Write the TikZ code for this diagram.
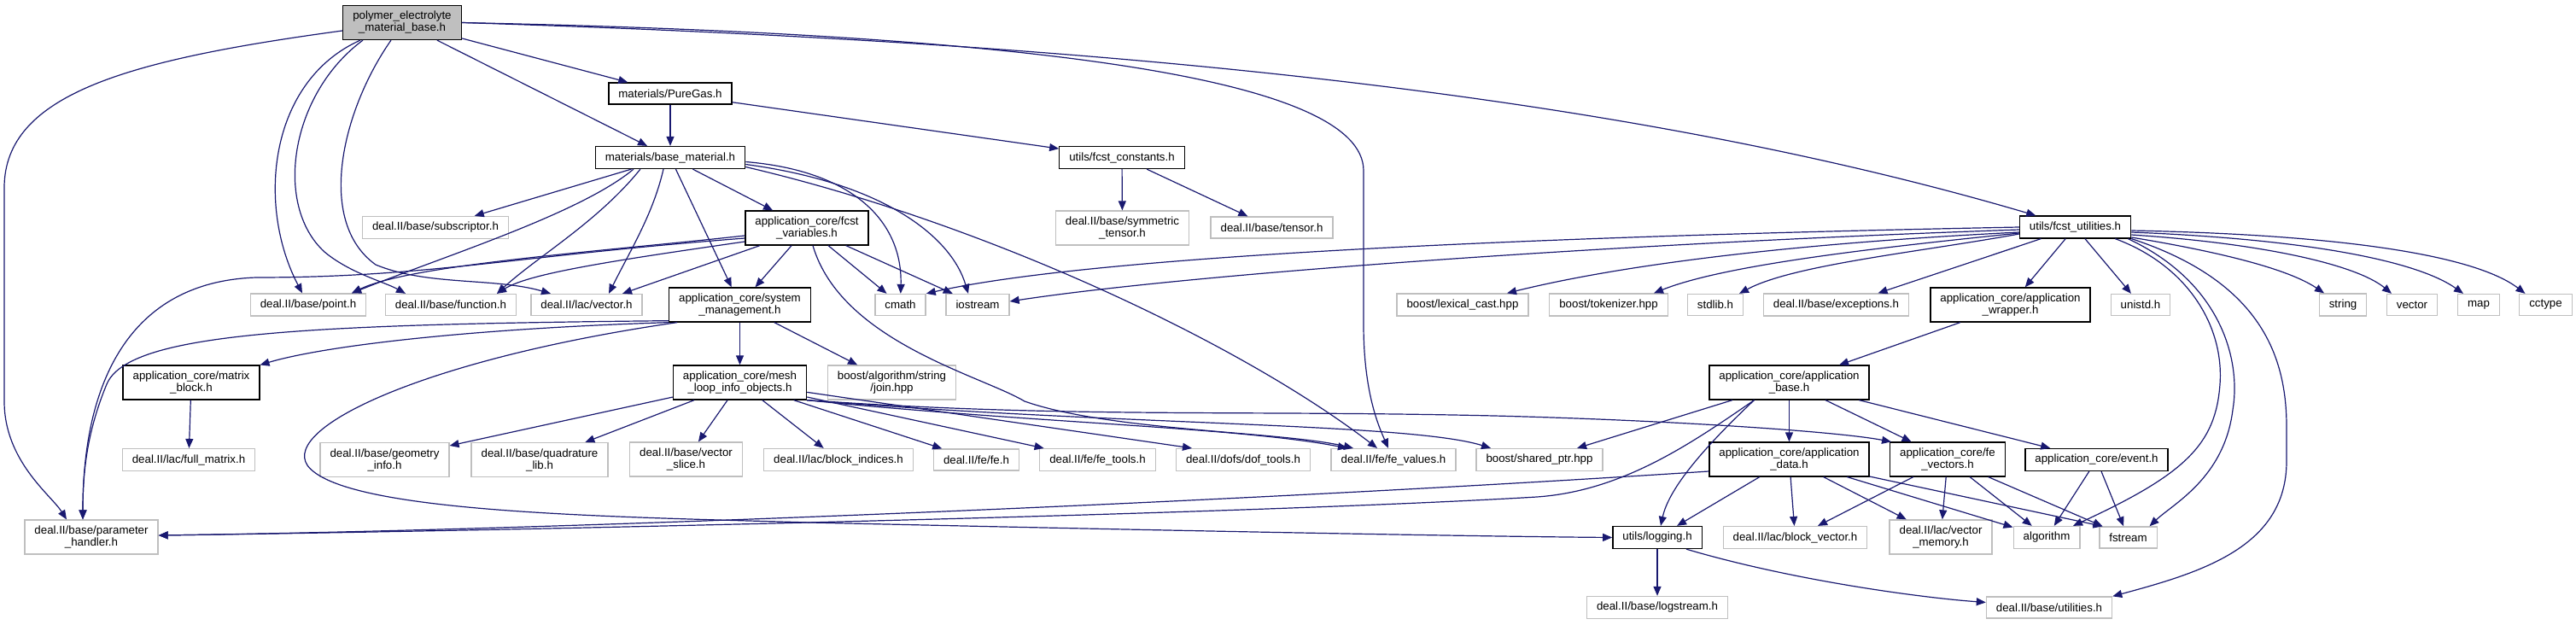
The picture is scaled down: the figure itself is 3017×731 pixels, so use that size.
\documentclass[tikz,border=0pt]{standalone}
\usepackage{fontspec}
\setmainfont{Liberation Sans}
\usetikzlibrary{arrows.meta}
\definecolor{edgeblue}{HTML}{191970}
\definecolor{boxgray}{HTML}{BFBFBF}

\begin{document}
\begin{tikzpicture}[x=1pt, y=-1pt,
    every node/.style={rectangle, draw, line width=1.3pt, inner xsep=11.5pt, inner ysep=6.8pt,
      minimum height=25pt, align=center, font={\fontsize{13.3}{14}\selectfont}},
    ext/.style={draw=boxgray},
    top/.style={fill=boxgray},
    dep/.style={draw=edgeblue, line width=1.2pt, -{Triangle[length=11pt, width=9pt]}}]
    \useasboundingbox (0,0) rectangle (3017,731);

    \node[top] (root) at (471,26.5) {polymer\_electrolyte\\\_material\_base.h};
    \node (puregas) at (785,109.5) {materials/PureGas.h};
    \node (basemat) at (785,184.5) {materials/base\_material.h};
    \node (constants) at (1314,184.5) {utils/fcst\_constants.h};
    \node[ext] (subscriptor) at (510,266.5) {deal.II/base/subscriptor.h};
    \node (variables) at (945,267) {application\_core/fcst\\\_variables.h};
    \node[ext] (symtensor) at (1314.5,267) {deal.II/base/symmetric\\\_tensor.h};
    \node[ext] (tensor) at (1489.5,266.5) {deal.II/base/tensor.h};
    \node (utilities) at (2430.5,266) {utils/fcst\_utilities.h};
    \node[ext] (point) at (361,357) {deal.II/base/point.h};
    \node[ext] (function) at (528,357) {deal.II/base/function.h};
    \node[ext] (lacvector) at (687,357) {deal.II/lac/vector.h};
    \node (sysmgmt) at (866.5,357) {application\_core/system\\\_management.h};
    \node[ext] (cmath) at (1054.5,357) {cmath};
    \node[ext] (iostream) at (1145,357) {iostream};
    \node[ext] (lexcast) at (1713,357) {boost/lexical\_cast.hpp};
    \node[ext] (tokenizer) at (1884,357) {boost/tokenizer.hpp};
    \node[ext] (stdlib) at (2009,357) {stdlib.h};
    \node[ext] (exceptions) at (2150.5,357) {deal.II/base/exceptions.h};
    \node (appwrapper) at (2354.5,357) {application\_core/application\\\_wrapper.h};
    \node[ext] (unistd) at (2507,357) {unistd.h};
    \node[ext] (string) at (2744,357) {string};
    \node[ext] (vector) at (2825,357) {vector};
    \node[ext] (map) at (2903,357) {map};
    \node[ext] (cctype) at (2981.5,357) {cctype};
    \node (matrixblock) at (224,448) {application\_core/matrix\\\_block.h};
    \node (meshloop) at (866.5,448) {application\_core/mesh\\\_loop\_info\_objects.h};
    \node[ext] (join) at (1044.5,448) {boost/algorithm/string\\/join.hpp};
    \node (appbase) at (2095.5,448) {application\_core/application\\\_base.h};
    \node[ext] (fullmatrix) at (221,538.5) {deal.II/lac/full\_matrix.h};
    \node[ext] (geominfo) at (450.5,538.5) {deal.II/base/geometry\\\_info.h};
    \node[ext] (quadlib) at (632,538.5) {deal.II/base/quadrature\\\_lib.h};
    \node[ext] (vecslice) at (803.5,538) {deal.II/base/vector\\\_slice.h};
    \node[ext] (blockind) at (982,538.5) {deal.II/lac/block\_indices.h};
    \node[ext] (fefe) at (1143.5,538.5) {deal.II/fe/fe.h};
    \node[ext] (fetools) at (1285.5,538.5) {deal.II/fe/fe\_tools.h};
    \node[ext] (doftools) at (1456,538.5) {deal.II/dofs/dof\_tools.h};
    \node[ext] (fevalues) at (1632,538.5) {deal.II/fe/fe\_values.h};
    \node[ext] (sharedptr) at (1803,538.5) {boost/shared\_ptr.hpp};
    \node (appdata) at (2095.5,538) {application\_core/application\\\_data.h};
    \node (fevectors) at (2281,538) {application\_core/fe\\\_vectors.h};
    \node (event) at (2455.5,538.5) {application\_core/event.h};
    \node[ext] (param) at (107,629) {deal.II/base/parameter\\\_handler.h};
    \node (logging) at (1941,629.5) {utils/logging.h};
    \node[ext] (blockvec) at (2102.5,629.5) {deal.II/lac/block\_vector.h};
    \node[ext] (vecmemory) at (2273,629) {deal.II/lac/vector\\\_memory.h};
    \node[ext] (algorithm) at (2397,629.5) {algorithm};
    \node[ext] (fstream) at (2492.5,629.5) {fstream};
    \node[ext] (logstream) at (1941,711.5) {deal.II/base/logstream.h};
    \node[ext] (dealutil) at (2400,711.5) {deal.II/base/utilities.h};

    \draw[dep] (root) .. controls (150,70) and (5,110) .. (5,220) -- (5,470) .. controls (5,540) and (60,580) .. ([xshift=-29pt]param.north);
    \draw[dep] ([xshift=-49pt]root.south) .. controls (315,95) and (300,240) .. ([xshift=-7pt]point.north);
    \draw[dep] ([xshift=-46pt]root.south) .. controls (340,110) and (320,240) .. (380,295) .. controls (410,320) and (450,330) .. ([xshift=-53pt]function.north);
    \draw[dep] ([xshift=-13pt]root.south) .. controls (400,130) and (370,260) .. (440,310) .. controls (500,335) and (580,325) .. ([xshift=-42pt]lacvector.north);
    \draw[dep] (root) -- (puregas);
    \draw[dep] (root) -- (basemat);
    \draw[dep] (root.east) .. controls (1200,40) and (1597,90) .. (1597,200) -- (1597,380) .. controls (1597,460) and (1615,500) .. ([xshift=-6pt]fevalues.north);
    \draw[dep] (root.east) .. controls (1300,50) and (1900,110) .. (utilities);

    \draw[dep] (puregas) -- (basemat);
    \draw[dep] (puregas) -- (constants);
    \draw[dep] (constants) -- (symtensor);
    \draw[dep] (constants) -- (tensor);

    \draw[dep] (basemat) -- (subscriptor);
    \draw[dep] ([xshift=-43pt]basemat.south) .. controls (680,250) and (520,300) .. ([xshift=51pt]point.north);
    \draw[dep] ([xshift=-35pt]basemat.south) .. controls (700,260) and (630,300) .. ([xshift=54pt]function.north);
    \draw[dep] ([xshift=-8pt]basemat.south) .. controls (765,250) and (740,290) .. ([xshift=26pt]lacvector.north);
    \draw[dep] (basemat) -- (variables);
    \draw[dep] (basemat) -- (sysmgmt);
    \draw[dep] ([yshift=-5pt]basemat.east) .. controls (1000,200) and (1057,260) .. (cmath);
    \draw[dep] ([yshift=-8pt]basemat.east) .. controls (1040,215) and (1115,280) .. ([xshift=-11pt]iostream.north);
    \draw[dep] ([yshift=-11pt]basemat.east) .. controls (1150,260) and (1450,400) .. ([xshift=-19pt]fevalues.north);

    \draw[dep] ([yshift=-9pt]variables.west) .. controls (700,295) and (480,310) .. ([xshift=51pt]point.north);
    \draw[dep] ([yshift=-16pt]variables.west) .. controls (720,305) and (620,320) .. ([xshift=54pt]function.north);
    \draw[dep] ([xshift=-55pt]variables.south) -- ([xshift=42pt]lacvector.north);
    \draw[dep] ([yshift=-12pt]variables.west) .. controls (600,300) and (500,325) .. (300,325) .. controls (150,330) and (97,450) .. ([xshift=-10pt]param.north);
    \draw[dep] (variables) -- (sysmgmt);
    \draw[dep] (variables) -- (cmath);
    \draw[dep] (variables) -- (iostream);
    \draw[dep] ([xshift=7pt]variables.south) .. controls (985,400) and (1150,440) .. (1200,470) .. controls (1300,505) and (1500,505) .. ([xshift=-47pt]fevalues.north);

    \draw[dep] (sysmgmt.south west) .. controls (550,385) and (380,405) .. (matrixblock.north east);
    \draw[dep] ([yshift=2pt]sysmgmt.south west) .. controls (350,380) and (150,390) .. (125,450) .. controls (100,510) and (97,560) .. ([xshift=-10pt]param.north);
    \draw[dep] ([xshift=10pt]sysmgmt.south west) .. controls (500,420) and (330,500) .. (360,545) .. controls (400,600) and (700,605) .. (950,612) .. controls (1300,620) and (1700,628) .. (logging.west);
    \draw[dep] (sysmgmt) -- (meshloop);
    \draw[dep] (sysmgmt) -- (join);
    \draw[dep] (matrixblock) -- (fullmatrix);

    \draw[dep] (meshloop) -- (geominfo);
    \draw[dep] (meshloop) -- (quadlib);
    \draw[dep] (meshloop) -- (vecslice);
    \draw[dep] (meshloop) -- (blockind);
    \draw[dep] (meshloop) -- (fefe);
    \draw[dep] (meshloop) -- (fetools);
    \draw[dep] (meshloop) -- ([xshift=-60pt]doftools.north);
    \draw[dep] (meshloop.south east) .. controls (1200,495) and (1450,500) .. ([xshift=-54pt]fevalues.north);
    \draw[dep] (meshloop.south east) .. controls (1300,498) and (1650,495) .. ([xshift=-57pt]sharedptr.north);
    \draw[dep] (meshloop.south east) .. controls (1250,490) and (1450,480) .. (1750,487) .. controls (1950,492) and (2150,505) .. ([xshift=2pt]fevectors.north west);

    \draw[dep] (utilities.west) .. controls (1900,275) and (1300,295) .. (cmath.north east);
    \draw[dep] ([yshift=-3pt]utilities.west) .. controls (1900,285) and (1400,320) .. ([yshift=4pt]iostream.east);
    \draw[dep] ([yshift=-6pt]utilities.west) .. controls (2100,285) and (1900,310) .. ([xshift=52pt]lexcast.north);
    \draw[dep] ([yshift=-7pt]utilities.west) .. controls (2200,290) and (2020,310) .. ([xshift=53pt]tokenizer.north);
    \draw[dep] ([yshift=-8pt]utilities.west) .. controls (2250,295) and (2100,310) .. ([xshift=28pt]stdlib.north);
    \draw[dep] ([xshift=-40pt]utilities.south) -- ([xshift=49pt]exceptions.north);
    \draw[dep] (utilities) -- (appwrapper);
    \draw[dep] (utilities) -- (unistd);
    \draw[dep] ([yshift=-12pt]utilities.east) .. controls (2600,295) and (2680,315) .. ([xshift=-22pt]string.north);
    \draw[dep] ([yshift=-9pt]utilities.east) .. controls (2650,285) and (2760,310) .. ([xshift=-24pt]vector.north);
    \draw[dep] ([yshift=-6pt]utilities.east) .. controls (2700,280) and (2830,305) .. ([xshift=-18pt]map.north);
    \draw[dep] ([yshift=-4pt]utilities.east) .. controls (2750,275) and (2900,300) .. ([xshift=-24pt]cctype.north);
    \draw[dep] ([xshift=-19pt]utilities.south east) .. controls (2560,310) and (2605,380) .. (2600,450) .. controls (2595,520) and (2560,555) .. ([xshift=31pt]algorithm.north);
    \draw[dep] ([xshift=-4pt]utilities.south east) .. controls (2600,330) and (2625,420) .. (2615,480) .. controls (2605,560) and (2545,590) .. ([xshift=25pt]fstream.north);
    \draw[dep] (utilities.south east) .. controls (2650,330) and (2678,420) .. (2678,500) -- (2678,540) .. controls (2678,640) and (2580,670) .. (dealutil.north east);

    \draw[dep] (appwrapper) -- (appbase);
    \draw[dep] (appbase) -- (sharedptr);
    \draw[dep] ([xshift=-41pt]appbase.south) .. controls (1980,520) and (1900,575) .. (1800,582) .. controls (1500,600) and (700,620) .. ([yshift=2pt]param.east);
    \draw[dep] ([xshift=-41pt]appbase.south) .. controls (2000,520) and (1955,570) .. ([xshift=4pt]logging.north);
    \draw[dep] (appbase) -- (appdata);
    \draw[dep] (appbase) -- (fevectors);
    \draw[dep] (appbase) -- (event);
    \draw[dep] (appdata) -- (logging);
    \draw[dep] (appdata) -- (blockvec);
    \draw[dep] (appdata) -- (vecmemory);
    \draw[dep] (appdata) -- (algorithm);
    \draw[dep] (appdata) -- ([xshift=-30pt]fstream.north);
    \draw[dep] ([yshift=-14pt]appdata.west) .. controls (1500,585) and (700,620) .. ([yshift=2pt]param.east);
    \draw[dep] (fevectors) -- (blockvec);
    \draw[dep] (fevectors) -- (vecmemory);
    \draw[dep] (fevectors) -- (algorithm);
    \draw[dep] (fevectors) -- ([xshift=-30pt]fstream.north);
    \draw[dep] (event) -- (algorithm);
    \draw[dep] (event) -- (fstream);
    \draw[dep] (logging) -- (logstream);
    \draw[dep] ([xshift=34pt]logging.south) .. controls (2100,680) and (2250,700) .. ([yshift=6pt]dealutil.west);
\end{tikzpicture}
\end{document}
